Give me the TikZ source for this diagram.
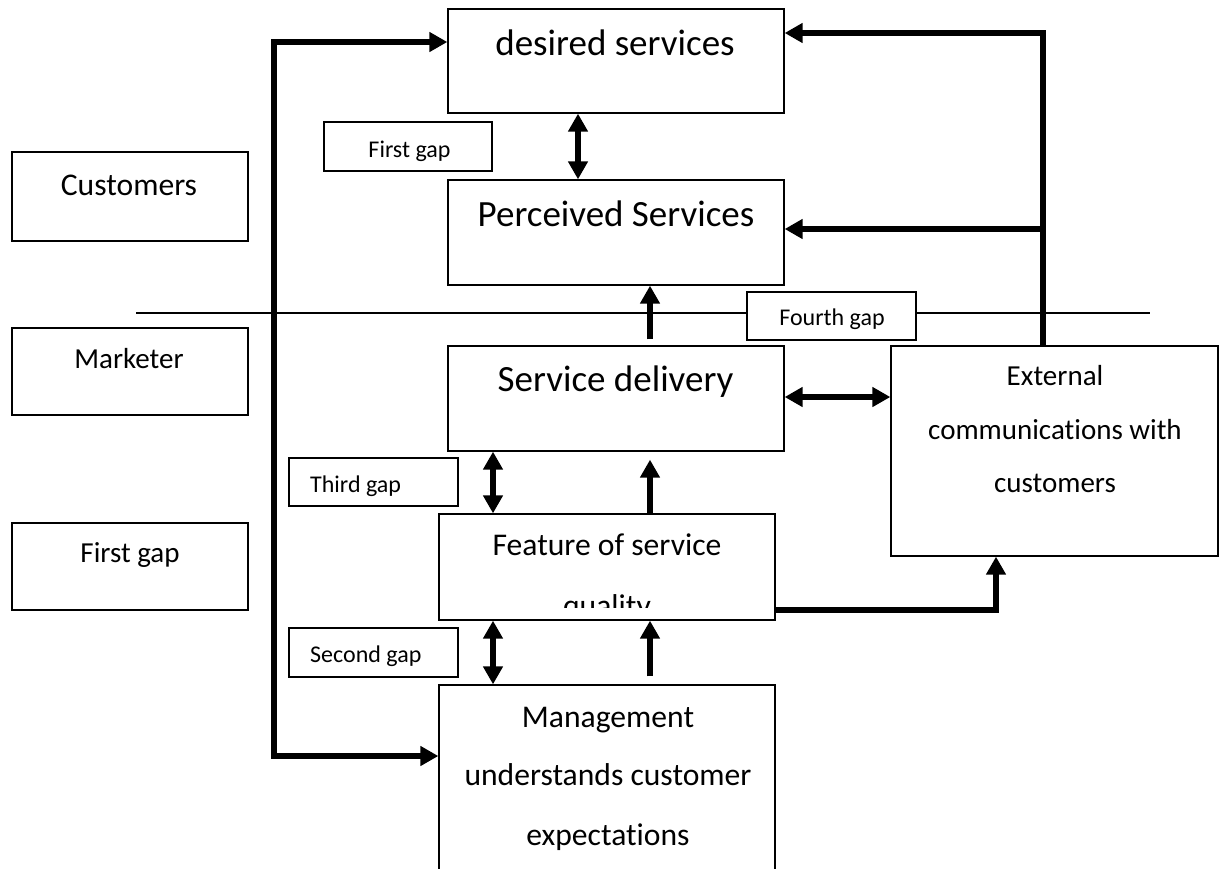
\documentclass[tikz,border=0pt]{standalone}
\usepackage{fontspec}
\setmainfont{Carlito}[Ligatures={NoCommon}]
\usetikzlibrary{arrows.meta}
\tikzset{
  box/.style={draw, line width=1.3pt, fill=white, rectangle, inner sep=0pt},
  lbl/.style={inner sep=0pt, anchor=base},
  one/.style={line width=6pt, -{Triangle[length=18pt,width=19pt]}},
  dbl/.style={line width=6pt, {Triangle[length=18pt,width=19pt]}-{Triangle[length=18pt,width=19pt]}},
  fbig/.style={font=\fontsize{37}{44}\selectfont},
  fmid/.style={font=\fontsize{31.6}{38}\selectfont},
  fsm/.style={font=\fontsize{29}{35}\selectfont},
  fgap/.style={font=\fontsize{24}{29}\selectfont},
}
\begin{document}
\begin{tikzpicture}[x=1pt,y=-1pt]
\useasboundingbox (0,0) rectangle (1221,868);
\clip (0,0) rectangle (1221,868);
\fill[white] (0,0) rectangle (1221,868);

% divider line
\coordinate (divL) at (136,313);
\coordinate (divR) at (1150,313);
\draw[line width=1.3pt] (divL) -- (divR);

% boxes
\node[box, minimum width=336pt, minimum height=104pt] (desired) at (616,61) {};
\node[box, minimum width=336pt, minimum height=105pt] (perceived) at (616,232.5) {};
\node[box, minimum width=168pt, minimum height=49pt] (gap1) at (408,146.5) {};
\node[box, minimum width=236pt, minimum height=89pt] (cust) at (130,196.5) {};
\node[box, minimum width=236pt, minimum height=87pt] (mark) at (130,371.5) {};
\node[box, minimum width=236pt, minimum height=87pt] (gapL) at (130,566.5) {};
\node[box, minimum width=169pt, minimum height=48pt] (gap4) at (831.5,316) {};
\node[box, minimum width=336pt, minimum height=105pt] (serv) at (616,398.5) {};
\node[box, minimum width=327pt, minimum height=210pt] (ext) at (1054.5,451) {};
\node[box, minimum width=169pt, minimum height=48pt] (gap3) at (373.5,482) {};
\node[box, minimum width=336pt, minimum height=106pt] (feat) at (607,567) {};
\node[box, minimum width=169pt, minimum height=49pt] (gap2) at (373.5,652.5) {};
\node[box, minimum width=336pt, minimum height=215pt] (mgmt) at (607,792.5) {};

% texts
\node[lbl, fbig] (desired-t) at (615,55) {desired services};
\node[lbl, fbig] (perceived-t) at (616,226) {Perceived Services};
\node[lbl, fgap] (gap1-t) at (409.5,157) {First gap};
\node[lbl, fmid] (cust-t) at (129,195) {Customers};
\node[lbl, fsm] (mark-t) at (129,368) {Marketer};
\node[lbl, fsm] (gapL-t) at (130,562) {First gap};
\node[lbl, fgap] (gap4-t) at (832,325) {Fourth gap};
\node[lbl, fbig] (serv-t) at (615.5,391) {Service delivery};
\node[lbl, fsm] (ext-t1) at (1055,385) {External};
\node[lbl, fsm] (ext-t2) at (1055,439) {communications with};
\node[lbl, fsm] (ext-t3) at (1055,492) {customers};
\node[lbl, fgap, anchor=base west] (gap3-t) at (310,492) {Third gap};
\node[lbl, fmid] (feat-t1) at (607,555) {Feature of service};
\begin{scope}
\clip (439,514) rectangle (775,607);
\node[lbl, fmid] (feat-t2) at (607,616) {quality};
\end{scope}
\node[lbl, fgap, anchor=base west] (gap2-t) at (310,662) {Second gap};
\node[lbl, fmid] (mgmt-t1) at (608,727) {Management};
\node[lbl, fmid] (mgmt-t2) at (608,785) {understands customer};
\node[lbl, fmid] (mgmt-t3) at (608,845) {expectations};

% helper coordinates
\coordinate (xA) at (578,0);
\coordinate (xB) at (650,0);
\coordinate (xC) at (493,0);
\coordinate (xR) at (1043,0);
\coordinate (xL) at (274,0);
\coordinate (xE) at (996,0);
\coordinate (yT) at (0,33);
\coordinate (yP) at (0,229);
\coordinate (yLT) at (0,42);
\coordinate (yLB) at (0,756);
\coordinate (ySE) at (0,397);
\coordinate (yFE) at (0,610);

% connectors
\draw[dbl] (desired.south -| xA) -- (perceived.north -| xA);
\draw[one, shorten <=6pt] (serv.north -| xB) -- (perceived.south -| xB);
\draw[dbl] (serv.east |- ySE) -- (ext.west |- ySE);
\draw[one] (ext.north -| xR) -- (xR |- yT) -- (desired.east |- yT);
\draw[one] (xR |- yP) -- (perceived.east |- yP);
\draw[dbl] (desired.west |- yLT) -- (xL |- yLT) -- (xL |- yLB) -- (mgmt.west |- yLB);
\draw[dbl] (serv.south -| xC) -- (feat.north -| xC);
\draw[one, shorten >=8pt] (feat.north -| xB) -- (serv.south -| xB);
\draw[one] (feat.east |- yFE) -- (xE |- yFE) -- (ext.south -| xE);
\draw[dbl] (feat.south -| xC) -- (mgmt.north -| xC);
\draw[one, shorten <=8pt] (mgmt.north -| xB) -- (feat.south -| xB);
\end{tikzpicture}
\end{document}
